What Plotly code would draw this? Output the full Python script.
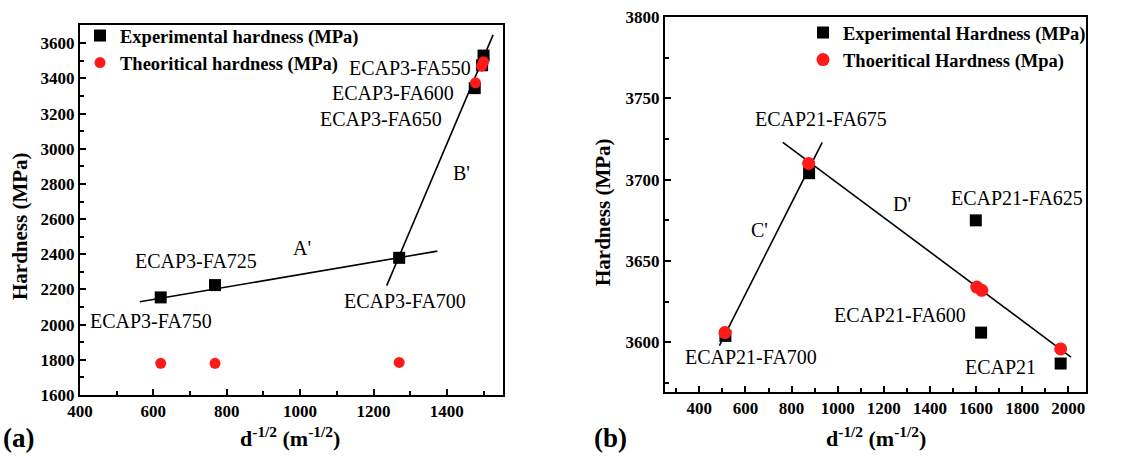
import plotly.graph_objects as go

# ---- Panel (a) data ----
a_exp_x = [620, 768, 1270, 1476, 1496, 1500]
a_exp_y = [2155, 2225, 2380, 3345, 3475, 3530]
a_theo_x = [620, 768, 1270, 1478, 1495, 1500]
a_theo_y = [1780, 1780, 1785, 3375, 3470, 3495]
a_lineA_x = [563, 1374]
a_lineA_y = [2130, 2418]
a_lineB_x = [1236, 1526]
a_lineB_y = [2222, 3648]
a_labels = ["ECAP3-FA550", "ECAP3-FA600", "ECAP3-FA650", "B'", "A'",
            "ECAP3-FA725", "ECAP3-FA750", "ECAP3-FA700"]
a_label_x = [1299, 1254, 1221, 1440, 1005, 717, 593, 1286]
a_label_y = [3460, 3318, 3170, 2863, 2436, 2362, 2021, 2136]

# ---- Panel (b) data ----
b_exp_x = [513, 876, 1599, 1622, 1967]
b_exp_y = [3604, 3704, 3675, 3606, 3587]
b_theo_x = [511, 874, 1603, 1625, 1967]
b_theo_y = [3606, 3710, 3634, 3632, 3596]
b_lineC_x = [487, 933]
b_lineC_y = [3598, 3723]
b_lineD_x = [762, 2012]
b_lineD_y = [3723, 3591]
b_labels = ["ECAP21-FA675", "D'", "ECAP21-FA625", "C'", "ECAP21-FA600",
            "ECAP21-FA700", "ECAP21"]
b_label_x = [926, 1281, 1776, 663, 1270, 626, 1704]
b_label_y = [3737, 3685, 3689, 3669, 3617, 3591, 3585]

SERIF = "Liberation Serif, Times New Roman, serif"
fig = go.Figure()

# panel a
fig.add_trace(go.Scatter(x=a_lineA_x, y=a_lineA_y, mode="lines", line=dict(color="black", width=1.6),
                         showlegend=False, xaxis="x", yaxis="y"))
fig.add_trace(go.Scatter(x=a_lineB_x, y=a_lineB_y, mode="lines", line=dict(color="black", width=1.6),
                         showlegend=False, xaxis="x", yaxis="y"))
fig.add_trace(go.Scatter(x=a_exp_x, y=a_exp_y, mode="markers", name="<b>Experimental hardness (MPa)</b>",
                         marker=dict(symbol="square", size=12, color="black"),
                         xaxis="x", yaxis="y", legend="legend"))
fig.add_trace(go.Scatter(x=a_theo_x, y=a_theo_y, mode="markers", name="<b>Theoritical hardness (MPa)</b>",
                         marker=dict(symbol="circle", size=11, color="#ff1a1a"),
                         xaxis="x", yaxis="y", legend="legend"))

# panel b
fig.add_trace(go.Scatter(x=b_lineC_x, y=b_lineC_y, mode="lines", line=dict(color="black", width=1.6),
                         showlegend=False, xaxis="x2", yaxis="y2"))
fig.add_trace(go.Scatter(x=b_lineD_x, y=b_lineD_y, mode="lines", line=dict(color="black", width=1.6),
                         showlegend=False, xaxis="x2", yaxis="y2"))
fig.add_trace(go.Scatter(x=b_exp_x, y=b_exp_y, mode="markers", name="<b>Experimental Hardness (MPa)</b>",
                         marker=dict(symbol="square", size=12, color="black"),
                         xaxis="x2", yaxis="y2", legend="legend2"))
fig.add_trace(go.Scatter(x=b_theo_x, y=b_theo_y, mode="markers", name="<b>Thoeritical Hardness (Mpa)</b>",
                         marker=dict(symbol="circle", size=13, color="#ff1a1a"),
                         xaxis="x2", yaxis="y2", legend="legend2"))

annotations = []
for t, x, y in zip(a_labels, a_label_x, a_label_y):
    annotations.append(dict(text=t, x=x, y=y, xref="x", yref="y", showarrow=False,
                            xanchor="center", yanchor="middle",
                            font=dict(family=SERIF, size=20, color="black")))
for t, x, y in zip(b_labels, b_label_x, b_label_y):
    annotations.append(dict(text=t, x=x, y=y, xref="x2", yref="y2", showarrow=False,
                            xanchor="center", yanchor="middle",
                            font=dict(family=SERIF, size=20, color="black")))

xtitle = "<b>d<sup>-1/2</sup> (m<sup>-1/2</sup>)</b>"
annotations += [
    dict(text="<b>(a)</b>", x=1 / 1137, y=1 - 438 / 466, xref="paper", yref="paper",
         xanchor="left", yanchor="middle",
         showarrow=False, font=dict(family=SERIF, size=27, color="black")),
    dict(text="<b>(b)</b>", x=592 / 1137, y=1 - 438 / 466, xref="paper", yref="paper",
         xanchor="left", yanchor="middle",
         showarrow=False, font=dict(family=SERIF, size=27, color="black")),
    dict(text=xtitle, x=290 / 1137, y=1 - 437 / 466, xref="paper", yref="paper",
         xanchor="center", yanchor="middle",
         showarrow=False, font=dict(family=SERIF, size=22, color="black")),
    dict(text=xtitle, x=876 / 1137, y=1 - 437 / 466, xref="paper", yref="paper",
         xanchor="center", yanchor="middle",
         showarrow=False, font=dict(family=SERIF, size=22, color="black")),
    dict(text="<b>Hardness (MPa)</b>", x=20 / 1137, y=1 - 226 / 466, xref="paper", yref="paper",
         xanchor="center", yanchor="middle",
         textangle=-90, showarrow=False, font=dict(family=SERIF, size=21, color="black")),
    dict(text="<b>Hardness (MPa)</b>", x=603 / 1137, y=1 - 212 / 466, xref="paper", yref="paper",
         xanchor="center", yanchor="middle",
         textangle=-90, showarrow=False, font=dict(family=SERIF, size=21, color="black")),
]

axis_common = dict(showgrid=False, zeroline=False, showline=True, linecolor="black", linewidth=2,
                   mirror=True, ticks="inside", ticklen=6, tickwidth=1.5, tickcolor="black",
                   automargin=False,
                   tickfont=dict(family=SERIF, size=17, color="black"))
minor_common = dict(ticks="inside", ticklen=4, tickwidth=1.5, tickcolor="black")

fig.update_layout(
    template="none",
    width=1137, height=466, margin=dict(l=0, r=0, t=0, b=0, pad=0), autosize=False,
    paper_bgcolor="white", plot_bgcolor="white",
    font=dict(family=SERIF, color="black"),
    xaxis=dict(domain=[80 / 1137, 503 / 1137], range=[400, 1553], anchor="y", tickmode="linear",
               tick0=400, dtick=200, minor=dict(dtick=100, **minor_common),
               tickprefix="<b>", ticksuffix="</b>", **axis_common),
    yaxis=dict(domain=[1 - 395 / 466, 1 - 25 / 466], range=[1600, 3704], anchor="x", tickmode="linear",
               tick0=1600, dtick=200, minor=dict(dtick=100, **minor_common),
               tickprefix="<b>", ticksuffix="</b>", **axis_common),
    xaxis2=dict(domain=[665 / 1137, 1086 / 1137], range=[251, 2077], anchor="y2", tickmode="linear",
                tick0=400, dtick=200, minor=dict(dtick=100, **minor_common),
                tickprefix="<b>", ticksuffix="</b>", **axis_common),
    yaxis2=dict(domain=[1 - 392 / 466, 1 - 17 / 466], range=[3569.5, 3800], anchor="x2", tickmode="linear",
                tick0=3600, dtick=50, minor=dict(dtick=25, **minor_common),
                tickprefix="<b>", ticksuffix="</b>", **axis_common),
    legend=dict(x=80 / 1137, y=1 - 17 / 466, xanchor="left", yanchor="top", bgcolor="rgba(0,0,0,0)",
                font=dict(family=SERIF, size=18.5, color="black"), tracegroupgap=0,
                itemsizing="trace", borderwidth=0),
    legend2=dict(x=803 / 1137, y=1 - 14 / 466, xanchor="left", yanchor="top", bgcolor="rgba(0,0,0,0)",
                 font=dict(family=SERIF, size=18.5, color="black"), tracegroupgap=0,
                 itemsizing="trace", borderwidth=0),
    annotations=annotations,
)

fig.write_html("out.html", config={"displayModeBar": False},
               post_script="document.body.style.margin='0';document.body.style.padding='0';")
